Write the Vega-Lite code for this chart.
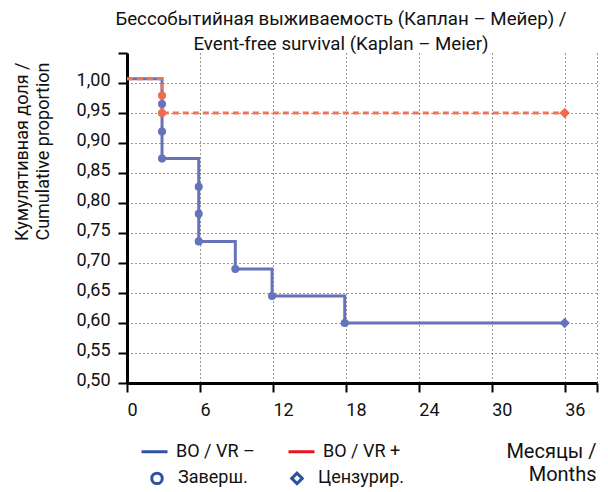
{
  "$schema": "https://vega.github.io/schema/vega-lite/v6.json",
  "width": 470,
  "height": 330,
  "autosize": {"type": "none"},
  "padding": {"left": 127, "top": 53, "right": 11, "bottom": 109},
  "background": "white",
  "config": {
    "view": {"stroke": null},
    "font": "Roboto",
    "title": {"lineHeight": 25},
    "axis": {
      "labelFont": "Roboto",
      "titleFont": "Roboto",
      "labelColor": "#111",
      "titleColor": "#111",
      "domainColor": "#000",
      "tickColor": "#000",
      "domainWidth": 3,
      "tickWidth": 2,
      "gridColor": "#333",
      "gridDash": [1, 3],
      "gridWidth": 1,
      "gridOpacity": 1,
      "titleFontWeight": "normal"
    },
    "legend": {"labelFont": "Roboto", "labelColor": "#111"}
  },
  "title": {
    "text": ["Бессобытийная выживаемость (Каплан – Мейер) /", "Event-free survival (Kaplan – Meier)"],
    "font": "Roboto",
    "fontSize": 18.7,
    "fontWeight": "normal",
    "color": "#111",
    "anchor": "middle",
    "dx": -21,
    "offset": -2,
    "lineHeight": 25
  },
  "datasets": {
    "steps": [
      {"group": "BO / VR –", "t": 0, "s": 1.007},
      {"group": "BO / VR –", "t": 2.88, "s": 0.874},
      {"group": "BO / VR –", "t": 5.9, "s": 0.736},
      {"group": "BO / VR –", "t": 8.91, "s": 0.69},
      {"group": "BO / VR –", "t": 11.93, "s": 0.645},
      {"group": "BO / VR –", "t": 17.91, "s": 0.6},
      {"group": "BO / VR –", "t": 36, "s": 0.6},
      {"group": "BO / VR +", "t": 0, "s": 1.007},
      {"group": "BO / VR +", "t": 2.88, "s": 0.95},
      {"group": "BO / VR +", "t": 36, "s": 0.95}
    ],
    "markers": [
      {"group": "BO / VR –", "kind": "Заверш.", "t": 2.88, "s": 0.965},
      {"group": "BO / VR –", "kind": "Заверш.", "t": 2.88, "s": 0.919},
      {"group": "BO / VR –", "kind": "Заверш.", "t": 2.88, "s": 0.874},
      {"group": "BO / VR –", "kind": "Заверш.", "t": 5.9, "s": 0.827},
      {"group": "BO / VR –", "kind": "Заверш.", "t": 5.9, "s": 0.782},
      {"group": "BO / VR –", "kind": "Заверш.", "t": 5.9, "s": 0.736},
      {"group": "BO / VR –", "kind": "Заверш.", "t": 8.91, "s": 0.69},
      {"group": "BO / VR –", "kind": "Заверш.", "t": 11.93, "s": 0.645},
      {"group": "BO / VR –", "kind": "Заверш.", "t": 17.91, "s": 0.6},
      {"group": "BO / VR –", "kind": "Цензурир.", "t": 36, "s": 0.6},
      {"group": "BO / VR +", "kind": "Заверш.", "t": 2.88, "s": 0.979},
      {"group": "BO / VR +", "kind": "Заверш.", "t": 2.88, "s": 0.95},
      {"group": "BO / VR +", "kind": "Цензурир.", "t": 36, "s": 0.95}
    ]
  },
  "encoding": {
    "x": {
      "field": "t",
      "type": "quantitative",
      "scale": {"domain": [0, 38.66], "nice": false, "zero": false},
      "axis": {
        "values": [0, 6, 12, 18, 24, 30, 36, 38.66],
        "labelExpr": "datum.value > 37 ? '' : format(datum.value, 'd')",
        "labelAlign": "left",
        "labelFlush": false,
        "labelFontSize": 18,
        "labelPadding": 9,
        "tickSize": 9,
        "grid": true,
        "title": ["Месяцы /", "Months"],
        "titleFontSize": 20,
        "titleAlign": "right",
        "titleAnchor": null,
        "titleBaseline": "top",
        "titleX": 469,
        "titleY": 58,
        "titleLineHeight": 23
      }
    },
    "y": {
      "field": "s",
      "type": "quantitative",
      "scale": {"domain": [0.5, 1.05], "nice": false, "zero": false},
      "axis": {
        "values": [0.5, 0.55, 0.6, 0.65, 0.7, 0.75, 0.8, 0.85, 0.9, 0.95, 1.0, 1.05],
        "labelExpr": "datum.value > 1.02 ? '' : replace(format(datum.value, '.2f'), '.', ',')",
        "labelFontSize": 18,
        "labelBaseline": "alphabetic",
        "labelOffset": 2,
        "labelPadding": 8,
        "tickSize": 9,
        "grid": true,
        "gridOpacity": {"condition": {"test": "datum.value > 1.02", "value": 0}, "value": 1},
        "title": ["Кумулятивная доля /", "Cumulative proportion"],
        "titleFontSize": 18,
        "titleAngle": 270,
        "titleAlign": "right",
        "titleAnchor": null,
        "titleBaseline": "top",
        "titleX": -114,
        "titleY": 9,
        "titleLineHeight": 21
      }
    }
  },
  "layer": [
    {
      "data": {"name": "steps"},
      "mark": {"type": "line", "interpolate": "step-after", "strokeWidth": 3},
      "encoding": {
        "color": {
          "field": "group",
          "type": "nominal",
          "scale": {"domain": ["BO / VR –", "BO / VR +"], "range": ["#6573BA", "#F07558"]},
          "legend": null
        },
        "strokeDash": {
          "field": "group",
          "type": "nominal",
          "scale": {"domain": ["BO / VR –", "BO / VR +"], "range": [[1, 0], [6, 4]]},
          "legend": null
        }
      }
    },
    {
      "data": {"name": "markers"},
      "mark": {"type": "point", "filled": true, "opacity": 1},
      "encoding": {
        "color": {
          "field": "group",
          "type": "nominal",
          "scale": {"domain": ["BO / VR –", "BO / VR +"], "range": ["#6573BA", "#F06A50"]},
          "legend": null
        },
        "shape": {
          "field": "kind",
          "type": "nominal",
          "scale": {"domain": ["Заверш.", "Цензурир."], "range": ["circle", "diamond"]},
          "legend": null
        },
        "size": {
          "field": "kind",
          "type": "ordinal",
          "scale": {"domain": ["Заверш.", "Цензурир."], "range": [65, 110]},
          "legend": null
        }
      }
    },
    {
      "data": {"name": "steps"},
      "mark": {"type": "line", "strokeWidth": 3, "opacity": 0},
      "encoding": {
        "color": {
          "field": "group",
          "type": "nominal",
          "scale": {"domain": ["BO / VR –", "BO / VR +"], "range": ["#2F51A6", "#E8141C"]},
          "legend": {
            "title": null,
            "orient": "none",
            "direction": "horizontal",
            "legendX": 13,
            "legendY": 384,
            "symbolType": "stroke",
            "symbolSize": 676,
            "symbolStrokeWidth": 3,
            "symbolOpacity": 1,
            "labelFontSize": 18,
            "labelOffset": 7,
            "columnPadding": 27,
            "padding": 0
          }
        }
      }
    },
    {
      "data": {"name": "markers"},
      "mark": {"type": "point", "filled": false, "opacity": 0, "color": "#2F4FA0", "strokeWidth": 3},
      "encoding": {
        "shape": {
          "field": "kind",
          "type": "nominal",
          "scale": {"domain": ["Заверш.", "Цензурир."], "range": ["circle", "diamond"]},
          "legend": {
            "title": null,
            "orient": "none",
            "direction": "horizontal",
            "legendX": 21,
            "legendY": 416,
            "symbolSize": 110,
            "symbolStrokeWidth": 3,
            "symbolStrokeColor": "#2F4FA0",
            "symbolFillColor": "transparent",
            "symbolOpacity": 1,
            "labelFontSize": 18,
            "labelOffset": 12,
            "columnPadding": 37,
            "padding": 0
          }
        }
      }
    }
  ],
  "resolve": {"scale": {"color": "independent", "shape": "independent", "strokeDash": "independent", "size": "independent"}}
}
